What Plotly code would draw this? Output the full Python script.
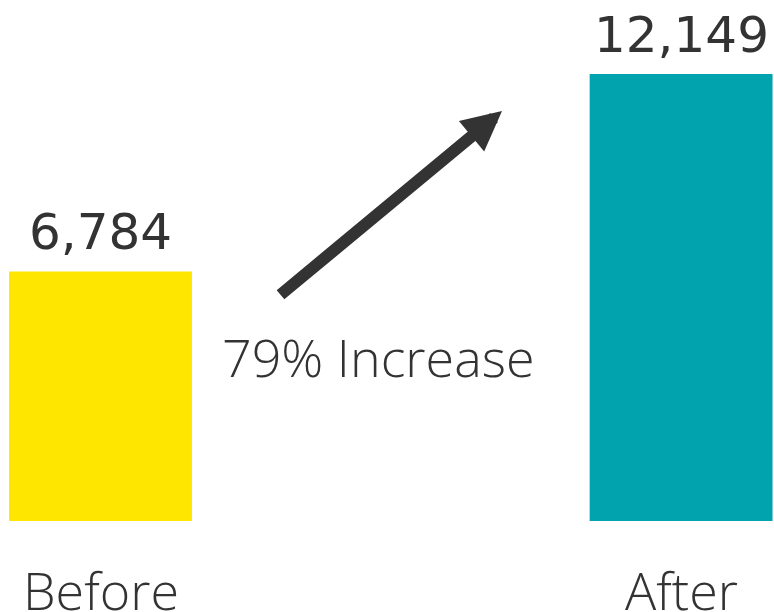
import plotly.graph_objects as go

categories = ["Before", "After"]
values = [6784, 12149]
value_labels = ["6,784", "12,149"]
bar_colors = ["#FFE600", "#00A3AE"]
change_label = "79% Increase"

TEXT = "#333333"
NUM_FONT = dict(family="DejaVu Sans", size=50, color=TEXT)
WORD_FONT = dict(family="Open Sans", size=52, color=TEXT, weight=350)

fig = go.Figure()
fig.add_trace(go.Bar(
    x=[0, 1], y=values, marker=dict(color=bar_colors, line=dict(width=0)),
    width=0.315, hoverinfo="skip",
))

annotations = []
for i, (v, lab) in enumerate(zip(values, value_labels)):
    annotations.append(dict(x=i, y=v, xref="x", yref="y", text=lab, showarrow=False,
                            font=NUM_FONT, yanchor="bottom", yshift=8))
for i, cat in enumerate(categories):
    annotations.append(dict(x=i, y=0, xref="x", yref="paper", text=cat, showarrow=False,
                            font=WORD_FONT, yanchor="top", yshift=-31))
annotations.append(dict(x=377.5 / 774, y=(521 - 357) / 521, xref="paper", yref="paper",
                        text=change_label, showarrow=False, font=WORD_FONT,
                        xanchor="center", yanchor="middle"))
annotations.append(dict(x=502 / 774, y=(521 - 111) / 521, xref="paper", yref="paper",
                        text="", showarrow=True, arrowhead=2, arrowsize=0.66,
                        arrowwidth=12, arrowcolor=TEXT, ax=-223, ay=185, standoff=0))

fig.update_layout(
    width=774, height=612,
    margin=dict(l=0, r=0, t=0, b=91),
    paper_bgcolor="white", plot_bgcolor="white",
    showlegend=False,
    xaxis=dict(range=[-0.1731, 1.160], visible=False, fixedrange=True),
    yaxis=dict(range=[0, 14160], visible=False, fixedrange=True),
    annotations=annotations,
)

fig.write_html("out.html", config={"displayModeBar": False})
